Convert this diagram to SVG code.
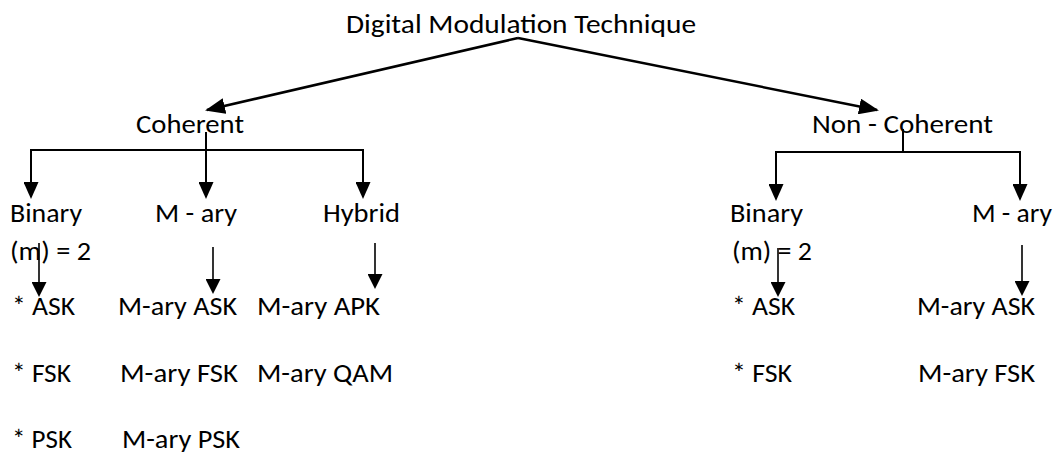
<svg xmlns="http://www.w3.org/2000/svg" width="1057" height="453" viewBox="0 0 1057 453">
<style>
text{font-family:Carlito,Lato,"Liberation Sans",sans-serif;font-size:27px;fill:#000}
.c{fill:none;stroke:#000;stroke-width:2}
.m{stroke-width:2.5}
.s{stroke-width:1.6}
</style>
<defs>
<marker id="ad" markerUnits="userSpaceOnUse" markerWidth="20" markerHeight="16" refX="18" refY="8" orient="auto"><path d="M0,0 L20,8 L0,16 z" fill="#000"/></marker>
<marker id="ah" markerUnits="userSpaceOnUse" markerWidth="17" markerHeight="15" refX="15" refY="7.5" orient="auto"><path d="M0,0 L17,7.5 L0,15 z" fill="#000"/></marker>
<marker id="as" markerUnits="userSpaceOnUse" markerWidth="15" markerHeight="15" refX="13" refY="7.5" orient="auto"><path d="M0,0 L15,7.5 L0,15 z" fill="#000"/></marker>
</defs>
<rect width="1057" height="453" fill="#fff"/>
<g id="connectors">
<path class="c m" d="M518,38 L207,110" marker-end="url(#ad)"/>
<path class="c m" d="M518,38 L877,110" marker-end="url(#ad)"/>
<path class="c" d="M31,150 H363"/>
<path class="c" d="M31,149 V197" marker-end="url(#ah)"/>
<path class="c" d="M363,149 V197" marker-end="url(#ah)"/>
<path class="c" d="M206,132 V197" marker-end="url(#ah)"/>
<path class="c" d="M903,129 V152"/>
<path class="c" d="M776,152 H1020"/>
<path class="c" d="M776,151 V199" marker-end="url(#ah)"/>
<path class="c" d="M1020,151 V199" marker-end="url(#ah)"/>
<path class="c s" d="M39,243 V295" marker-end="url(#as)"/>
<path class="c s" d="M213,247 V292" marker-end="url(#as)"/>
<path class="c s" d="M375,243 V287" marker-end="url(#as)"/>
<path class="c s" d="M778,248 V295" marker-end="url(#as)"/>
<path class="c s" d="M1022,245 V294" marker-end="url(#as)"/>
</g>
<g id="root"><text x="346" y="33" textLength="350" lengthAdjust="spacingAndGlyphs">Digital Modulation Technique</text></g>
<g id="coherent"><text x="136" y="133" textLength="108" lengthAdjust="spacingAndGlyphs">Coherent</text></g>
<g id="noncoherent"><text x="812" y="133" textLength="181" lengthAdjust="spacingAndGlyphs">Non - Coherent</text></g>
<g id="c-binary">
<text x="10" y="222" textLength="72" lengthAdjust="spacingAndGlyphs">Binary</text>
<text x="10" y="260" textLength="81" lengthAdjust="spacingAndGlyphs">(m) = 2</text>
<text x="12" y="315" textLength="63" lengthAdjust="spacingAndGlyphs">* ASK</text>
<text x="12" y="382" textLength="59" lengthAdjust="spacingAndGlyphs">* FSK</text>
<text x="12" y="448" textLength="60" lengthAdjust="spacingAndGlyphs">* PSK</text>
</g>
<g id="c-mary">
<text x="155" y="222" textLength="82" lengthAdjust="spacingAndGlyphs">M - ary</text>
<text x="118" y="315" textLength="119" lengthAdjust="spacingAndGlyphs">M-ary ASK</text>
<text x="120" y="382" textLength="118" lengthAdjust="spacingAndGlyphs">M-ary FSK</text>
<text x="122" y="448" textLength="118" lengthAdjust="spacingAndGlyphs">M-ary PSK</text>
</g>
<g id="c-hybrid">
<text x="323" y="222" textLength="77" lengthAdjust="spacingAndGlyphs">Hybrid</text>
<text x="257" y="315" textLength="123" lengthAdjust="spacingAndGlyphs">M-ary APK</text>
<text x="257" y="382" textLength="136" lengthAdjust="spacingAndGlyphs">M-ary QAM</text>
</g>
<g id="n-binary">
<text x="730" y="222" textLength="73" lengthAdjust="spacingAndGlyphs">Binary</text>
<text x="732" y="260" textLength="80" lengthAdjust="spacingAndGlyphs">(m) = 2</text>
<text x="732" y="315" textLength="63" lengthAdjust="spacingAndGlyphs">* ASK</text>
<text x="732" y="382" textLength="60" lengthAdjust="spacingAndGlyphs">* FSK</text>
</g>
<g id="n-mary">
<text x="972" y="222" textLength="80" lengthAdjust="spacingAndGlyphs">M - ary</text>
<text x="917" y="315" textLength="118" lengthAdjust="spacingAndGlyphs">M-ary ASK</text>
<text x="918" y="382" textLength="117" lengthAdjust="spacingAndGlyphs">M-ary FSK</text>
</g>
</svg>
